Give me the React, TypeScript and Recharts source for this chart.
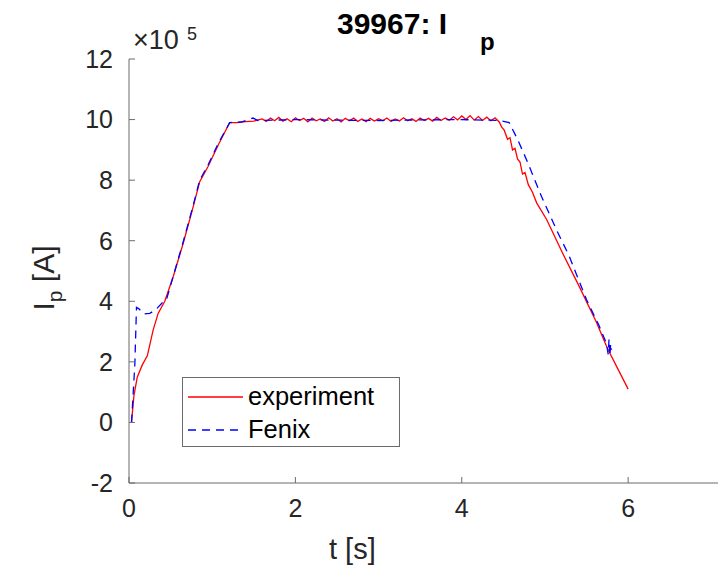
import { LineChart, Line, XAxis, YAxis } from "recharts";

// Plasma current of shot 39967, in units of 1e5 A (axis multiplier ×10^5)
const expTime = [
  0.03, 0.06, 0.1, 0.16, 0.22, 0.29, 0.35, 0.43, 0.53, 0.65, 0.76, 0.85, 0.95, 1.08, 1.21, 1.3, 1.4, 1.5,
  1.6, 1.65, 1.7, 1.75, 1.8, 1.85, 1.9, 1.95, 2.0, 2.05, 2.1, 2.15, 2.2, 2.25, 2.3, 2.35, 2.4, 2.45,
  2.5, 2.55, 2.6, 2.65, 2.7, 2.75, 2.8, 2.85, 2.9, 2.95, 3.0, 3.05, 3.1, 3.15, 3.2, 3.25, 3.3, 3.35,
  3.4, 3.45, 3.5, 3.55, 3.6, 3.65, 3.7, 3.75, 3.8, 3.85, 3.9, 3.95, 4.0, 4.05, 4.1, 4.15, 4.2, 4.25,
  4.3, 4.35, 4.4, 4.45, 4.48, 4.51, 4.55, 4.58, 4.61, 4.64, 4.67, 4.7, 4.73, 4.76, 4.8, 4.85, 4.9,
  5.02, 5.21, 5.41, 5.62, 5.75, 5.87, 6.0,
];
const expCurrent = [
  0, 0.9, 1.5, 1.9, 2.2, 3.05, 3.6, 4.0, 4.8, 5.9, 7.0, 7.95, 8.45, 9.2, 9.9, 9.9, 9.93, 9.95,
  10.02, 9.94, 10.05, 9.96, 10.07, 9.95, 10.03, 9.93, 10.06, 9.97, 10.04, 9.92, 10.05, 9.96, 10.02, 9.94, 10.06, 9.95,
  10.03, 9.92, 10.04, 9.96, 10.05, 9.94, 10.02, 9.93, 10.04, 9.95, 10.03, 9.96, 10.05, 9.94, 10.02, 9.95, 10.06, 9.96,
  10.03, 9.94, 10.05, 9.97, 10.04, 9.95, 10.07, 9.97, 10.05, 9.98, 10.09, 9.99, 10.12, 10.0, 10.13, 9.98, 10.1, 9.97,
  10.08, 9.96, 10.06, 9.92, 9.75, 9.65, 9.35, 9.4, 9.0, 9.05, 8.7, 8.6, 8.2, 8.25, 7.85, 7.6, 7.25,
  6.7, 5.6, 4.5, 3.3, 2.45, 1.8, 1.1,
];

const fenixTime = [
  0.03, 0.07, 0.09, 0.12, 0.18, 0.25, 0.32, 0.4, 0.45, 0.55, 0.65, 0.76, 0.85, 0.95, 1.08, 1.21, 1.35,
  1.49, 1.55, 2.0, 2.5, 3.0, 3.5, 4.0, 4.45, 4.57, 4.67, 4.79, 4.96, 5.14, 5.29, 5.5, 5.65, 5.74,
  5.76, 5.77, 5.78, 5.79, 5.8,
];
const fenixCurrent = [
  0, 1.9, 3.8, 3.75, 3.58, 3.6, 3.72, 3.95, 4.05, 5.0, 5.95, 7.05, 8.0, 8.5, 9.25, 9.9, 9.92,
  10.05, 9.97, 10.0, 9.98, 9.97, 9.99, 10.0, 9.97, 9.9, 9.35, 8.6, 7.45, 6.35, 5.5, 4.05, 3.2, 2.6,
  2.25, 2.75, 2.2, 2.6, 2.4,
];

const xTicks = [0, 2, 4, 6];
const yTicks = [-2, 0, 2, 4, 6, 8, 10, 12];

const expData = expTime.map((t, i) => ({ t, ip: expCurrent[i] }));
const fenixData = fenixTime.map((t, i) => ({ t, ip: fenixCurrent[i] }));

const FONT = '"Liberation Sans", Arial, Helvetica, sans-serif';
const AXIS = "#6b6b6b";
const TEXT = "#262626";

// legend drawn as an overlay so it doesn't eat into the plot area
function LegendBox() {
  const row = (label: string, color: string, dash?: string) => (
    <div style={{ display: "flex", alignItems: "center", height: 33 }}>
      <svg width={60} height={10} style={{ marginLeft: 5 }}>
        <line x1={0} y1={5} x2={55} y2={5} stroke={color} strokeWidth={1.3} strokeDasharray={dash} />
      </svg>
      <span style={{ fontSize: 25.5, color: "#000" }}>{label}</span>
    </div>
  );
  return (
    <div
      style={{
        position: "absolute",
        left: 182,
        top: 377,
        width: 218,
        height: 70,
        border: `1px solid ${AXIS}`,
        background: "#fff",
        boxSizing: "border-box",
        paddingTop: 2,
      }}
    >
      {row("experiment", "#ff0000")}
      {row("Fenix", "#0000ff", "8 6")}
    </div>
  );
}

export default function App() {
  return (
    <div style={{ position: "absolute", left: 0, top: 0, width: 719, height: 568, background: "#fff", fontFamily: FONT }}>
      <LineChart width={719} height={568} margin={{ top: 59, right: 1, bottom: 0, left: 0 }}>
        <XAxis
          xAxisId={0}
          dataKey="t"
          type="number"
          domain={[0, 7.08]}
          allowDataOverflow
          ticks={xTicks}
          height={85}
          tickSize={-6}
          tickMargin={22}
          stroke={AXIS}
          tick={{ fontSize: 25, fill: TEXT, fontFamily: FONT }}
        />
        <XAxis
          xAxisId="top"
          orientation="top"
          dataKey="t"
          type="number"
          domain={[0, 7.08]}
          allowDataOverflow
          ticks={xTicks}
          height={0}
          tickSize={-6}
          stroke={AXIS}
          tickFormatter={() => ""}
        />
        <YAxis
          yAxisId={0}
          type="number"
          domain={[-2, 12]}
          ticks={yTicks}
          width={129}
          tickSize={-6}
          tickMargin={22}
          stroke={AXIS}
          tick={{ fontSize: 25, fill: TEXT, fontFamily: FONT }}
        />
        <YAxis
          yAxisId="right"
          orientation="right"
          type="number"
          domain={[-2, 12]}
          ticks={yTicks}
          width={0}
          tickSize={-7}
          axisLine={false}
          stroke={AXIS}
          tickFormatter={() => ""}
        />
        <Line
          data={expData}
          dataKey="ip"
          name="experiment"
          type="linear"
          stroke="#ff0000"
          strokeWidth={1.3}
          dot={false}
          isAnimationActive={false}
        />
        <Line
          data={fenixData}
          dataKey="ip"
          name="Fenix"
          type="linear"
          stroke="#0000ff"
          strokeWidth={1.3}
          strokeDasharray="8 6"
          dot={false}
          isAnimationActive={false}
        />
      </LineChart>

      <LegendBox />

      {/* title with the odd MATLAB subscript gap */}
      <div style={{ position: "absolute", left: 337, top: 9, fontSize: 30, fontWeight: "bold", color: "#000", lineHeight: 1 }}>
        39967: I
      </div>
      <div style={{ position: "absolute", left: 480, top: 30, fontSize: 24, fontWeight: "bold", color: "#000", lineHeight: 1 }}>
        p
      </div>

      {/* axis multiplier */}
      <div style={{ position: "absolute", left: 133, top: 27, fontSize: 27, color: TEXT, lineHeight: 1 }}>×10</div>
      <div style={{ position: "absolute", left: 187, top: 25, fontSize: 18, color: TEXT, lineHeight: 1 }}>5</div>

      {/* y label */}
      <div
        style={{
          position: "absolute",
          left: 47,
          top: 278,
          transform: "translate(-50%, -50%) rotate(-90deg)",
          fontSize: 30,
          color: TEXT,
          whiteSpace: "nowrap",
          lineHeight: 1,
        }}
      >
        I<sub style={{ fontSize: 21, verticalAlign: "-0.35em" }}>p</sub> [A]
      </div>

      {/* x label */}
      <div style={{ position: "absolute", left: 329, top: 535, fontSize: 29, color: TEXT, lineHeight: 1 }}>t [s]</div>
    </div>
  );
}
